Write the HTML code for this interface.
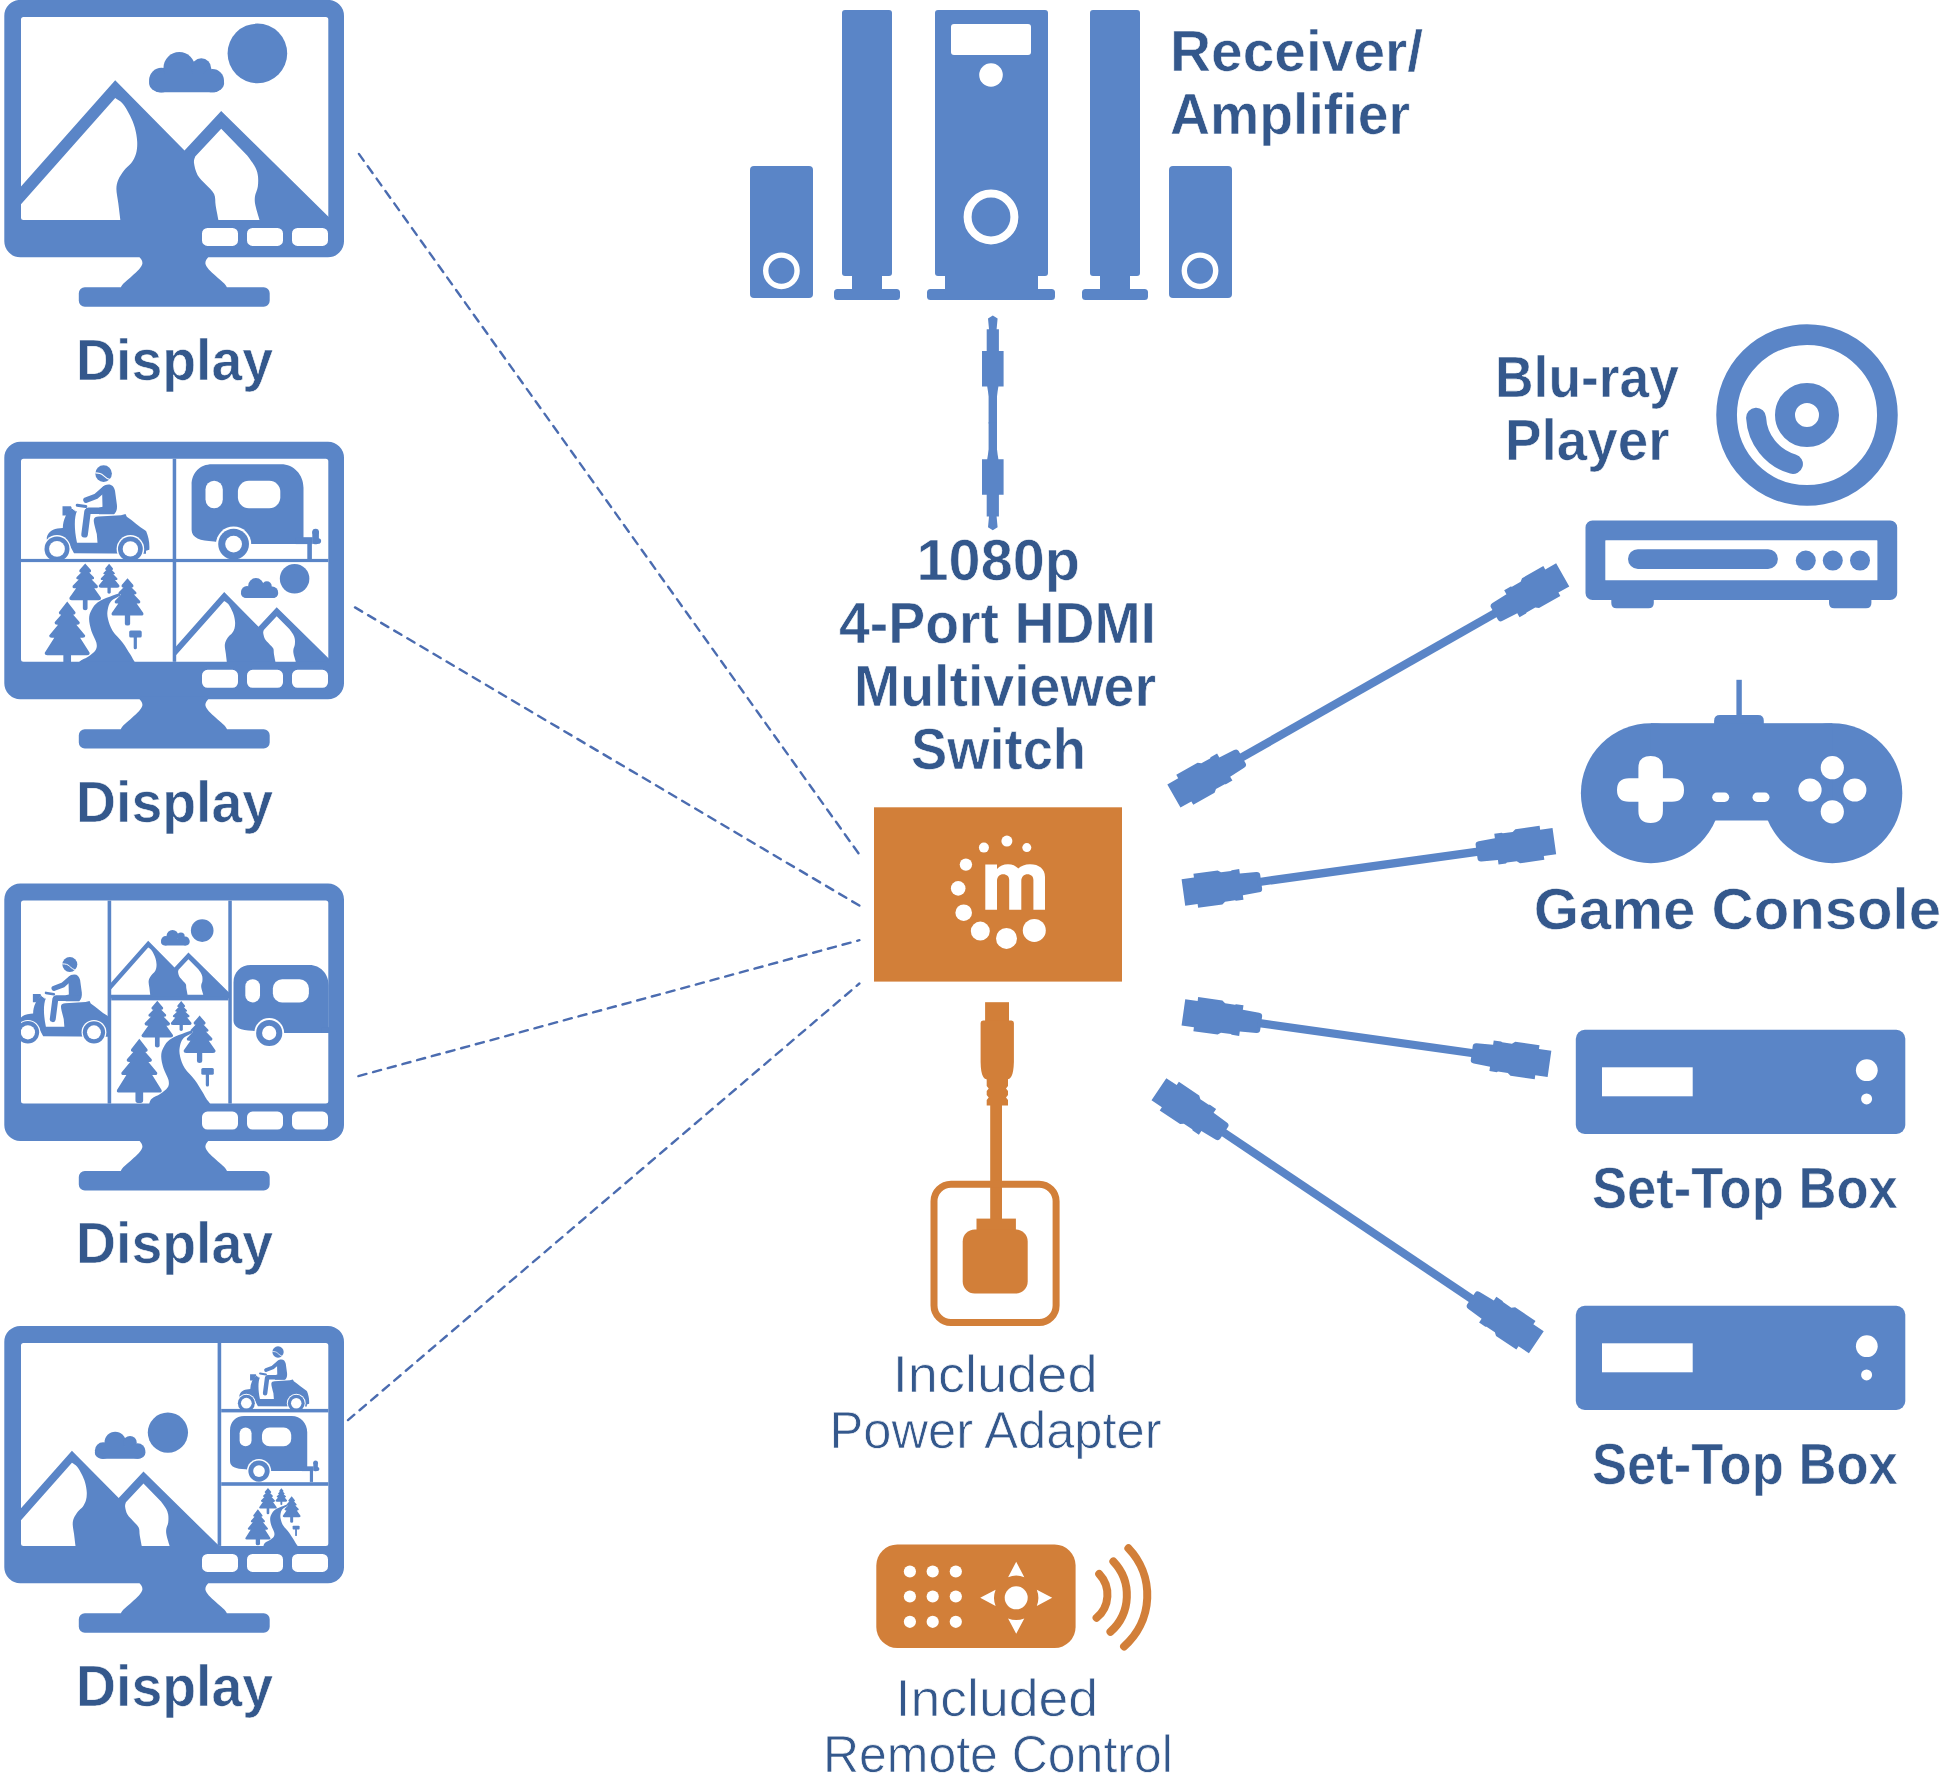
<!DOCTYPE html>
<html><head><meta charset="utf-8"><title>HDMI Multiviewer Switch</title>
<style>html,body{margin:0;padding:0;background:#fff;width:1944px;height:1776px;overflow:hidden}svg{display:block}</style>
</head><body>
<svg width="1944" height="1776" viewBox="0 0 1944 1776">
<defs>
<g id="pMtn">
<circle cx="257.4" cy="53.5" r="29.8" fill="#5a85c7"/>
<g fill="#5a85c7"><circle cx="161.4" cy="80.2" r="12.3"/><circle cx="179.3" cy="67.9" r="15.8"/><circle cx="201.3" cy="68.3" r="9.9"/><circle cx="212.4" cy="80.8" r="11.6"/><rect x="149.1" y="74" width="75" height="18.4" rx="11"/></g>
<path fill="#5a85c7" d="M5,204.7 L115.2,80.4 L184.5,150.5 L221.2,111.2 L345,233 L5,233 Z"/>
<path fill="#fff" d="M5,222.5 L115.2,98.2 C116.5,99.2 120.5,101.1 123.0,104.1 C125.5,107.0 128.1,112.0 130.1,115.9 C132.1,119.8 133.6,123.4 134.8,127.7 C136.0,132.0 137.0,137.6 137.2,141.9 C137.4,146.2 137.0,150.2 136.0,153.8 C135.0,157.4 133.3,160.4 131.3,163.2 C129.3,165.9 126.4,167.5 124.2,170.3 C122.0,173.1 119.6,176.7 118.3,179.8 C117.0,183.0 116.4,185.3 116.4,189.2 C116.4,193.1 117.6,197.9 118.3,203.4 C119.0,208.9 120.2,218.9 120.6,222.0 L5,222 Z"/>
<path fill="#fff" d="M221.2,128.9 L195.2,156.7 C195.0,157.8 193.6,160.1 194.0,163.2 C194.4,166.2 195.5,171.4 197.5,175.0 C199.5,178.6 203.0,181.3 205.8,184.5 C208.6,187.7 212.4,190.4 214.1,194.0 C215.8,197.6 214.9,201.1 215.7,205.8 C216.5,210.5 218.3,219.3 218.8,222.0 L260.2,222 C259.4,219.3 256.4,210.1 255.5,205.8 C254.6,201.5 254.6,199.5 255.0,196.3 C255.4,193.2 257.3,190.5 257.8,186.9 C258.3,183.3 258.4,178.6 257.8,175.0 C257.2,171.4 256.1,168.8 254.3,165.6 C252.5,162.3 248.4,157.2 247.2,155.5 Z"/>
</g>
<g id="pTrees" fill="#5a85c7">
<path d="M85.20,121.70 L90.94,128.29 Q91.74,130.89 88.60,130.89 L89.43,130.89 L93.90,135.51 Q94.70,137.68 91.95,137.68 L91.62,137.68 L97.72,143.96 Q98.52,146.56 95.38,146.56 L94.28,146.56 L100.85,155.80 Q101.65,158.40 98.51,158.40 L87.55,158.40 L87.55,166.75 Q87.55,168.40 85.20,168.40 Q82.85,168.40 82.85,166.75 L82.85,158.40 L71.89,158.40 Q68.75,158.40 69.55,155.80 L76.12,146.56 L75.02,146.56 Q71.88,146.56 72.68,143.96 L78.78,137.68 L78.45,137.68 Q75.70,137.68 76.50,135.51 L80.97,130.89 L81.80,130.89 Q78.66,130.89 79.46,128.29 L85.20,121.70 Z"/>
<path d="M109.10,122.00 L112.84,126.39 Q113.64,128.17 111.24,128.17 L111.85,128.17 L114.77,131.16 Q115.57,132.57 113.50,132.57 L113.28,132.57 L117.26,136.48 Q118.06,138.32 115.60,138.32 L115.02,138.32 L119.30,143.54 Q120.10,146.00 117.09,146.00 L110.75,146.00 L110.75,150.75 Q110.75,151.90 109.10,151.90 Q107.45,151.90 107.45,150.75 L107.45,146.00 L101.11,146.00 Q98.10,146.00 98.90,143.54 L103.18,138.32 L102.60,138.32 Q100.14,138.32 100.94,136.48 L104.92,132.57 L104.70,132.57 Q102.63,132.57 103.43,131.16 L106.35,128.17 L106.96,128.17 Q104.56,128.17 105.36,126.39 L109.10,122.00 Z"/>
<path d="M127.50,136.50 L133.30,143.23 Q134.10,145.83 130.96,145.83 L131.77,145.83 L136.28,150.53 Q137.08,152.73 134.30,152.73 L133.98,152.73 L140.14,159.16 Q140.94,161.76 137.80,161.76 L136.66,161.76 L143.30,171.20 Q144.10,173.80 140.96,173.80 L130.15,173.80 L130.15,181.95 Q130.15,183.80 127.50,183.80 Q124.85,183.80 124.85,181.95 L124.85,173.80 L114.04,173.80 Q110.90,173.80 111.70,171.20 L118.34,161.76 L117.20,161.76 Q114.06,161.76 114.86,159.16 L121.02,152.73 L120.70,152.73 Q117.92,152.73 118.72,150.53 L123.23,145.83 L124.04,145.83 Q120.90,145.83 121.70,143.23 L127.50,136.50 Z"/>
<path d="M67.20,159.60 L75.38,170.26 Q76.18,172.86 73.04,172.86 L73.22,172.86 L79.60,180.26 Q80.40,182.86 77.26,182.86 L76.34,182.86 L85.04,193.35 Q85.84,195.95 82.70,195.95 L80.13,195.95 L89.50,210.80 Q90.30,213.40 87.16,213.40 L71.05,213.40 L71.05,221.31 Q71.05,224.00 67.20,224.00 Q63.35,224.00 63.35,221.31 L63.35,213.40 L47.24,213.40 Q44.10,213.40 44.90,210.80 L54.27,195.95 L51.70,195.95 Q48.56,195.95 49.36,193.35 L58.06,182.86 L57.14,182.86 Q54.00,182.86 54.80,180.26 L61.18,172.86 L61.36,172.86 Q58.22,172.86 59.02,170.26 L67.20,159.60 Z"/>
<rect x="129.2" y="188.8" width="12.5" height="6.8" rx="1.5"/><rect x="133.7" y="194" width="3.2" height="13.4" rx="1.5"/>
<path d="M119.5,151.2 C116.1,152.6 103.8,156.7 99.1,159.6 C94.4,162.5 93.1,165.4 91.4,168.4 C89.7,171.4 89.1,173.9 89.1,177.3 C89.1,180.8 90.2,185.2 91.4,189.1 C92.6,193.0 95.7,197.7 96.4,200.9 C97.1,204.1 96.9,206.2 95.5,208.5 C94.1,210.8 90.9,212.8 88.0,215.0 C85.1,217.2 80.0,217.8 78.0,222.0 C76.0,226.2 76.3,237.0 76.0,240.0 L150,240 C147.7,237.0 139.3,226.5 136.0,222.0 C132.7,217.5 132.6,216.3 130.4,212.8 C128.2,209.3 125.7,204.9 122.7,200.9 C119.8,196.9 115.2,193.0 112.7,189.1 C110.2,185.2 108.8,180.8 108.0,177.3 C107.2,173.9 107.1,171.4 107.6,168.4 C108.1,165.4 108.8,162.1 110.9,159.6 C113.1,157.1 118.9,154.7 120.5,153.7 Z"/>
</g>
<g id="pScooter">
<g fill="#5a85c7">
<path d="M46.8,95.5 C48.5,89.5 53,87 60,86.5 L62.8,86.1 C63,78 66.5,70.5 72,66.2 L76.8,69.8 C74.5,75 73.8,86 77,100.9 L97.5,100.9 L96.8,92.3 C95,85 93.5,80.5 93.8,78 C94,75.8 96,75 98.5,74.8 L121,73.5 L125.5,72.3 L126.8,75 C133,79 139,85 145,88.5 L146.2,89.5 C148.5,95 149.8,101.5 149.3,108 L146,109 L146,112 L74,111.5 L70,104 L60,100 L46.8,98 Z"/>
<path d="M62.5,64.5 L70.8,64.5 L71.8,66 L66.5,73.8 L62.5,73.8 Z"/>
<path d="M102,46 C103.5,43.5 106,42.8 108.5,42.8 C112,42.8 114,45 115,49 L116.9,63 C117.3,67 116.5,70.5 114,72.5 L99,72.5 L99,66 L102.5,65 Z"/>
<circle cx="103.6" cy="31.8" r="8.3"/>
</g>
<g stroke="#5a85c7" stroke-linecap="round" fill="none">
<path d="M104,47.5 L96,54.5 L86,58.3" stroke-width="5.6"/>
<path d="M88.5,69 L112,69" stroke-width="6.4"/>
<path d="M87.5,70 L84.6,92.5" stroke-width="6.6"/>
<path d="M77.2,63.4 L85.8,64.8" stroke-width="3"/>
</g>
<path d="M95.2,31.1 C99,31.1 101.2,31.6 103.2,33.6 C105.2,35.6 107.6,37.6 110.9,38.1" stroke="#fff" stroke-width="1.1" fill="none"/>
<path d="M71.8,66.2 L76,69.4" stroke="#fff" stroke-width="1" fill="none"/>
<g>
<circle cx="57" cy="107.1" r="13.8" fill="#fff"/><circle cx="57" cy="107.1" r="12.5" fill="#5a85c7"/><circle cx="57" cy="107.1" r="7.9" fill="#fff"/>
<circle cx="130.4" cy="107.1" r="13.8" fill="#fff"/><circle cx="130.4" cy="107.1" r="12.4" fill="#5a85c7"/><circle cx="130.4" cy="107.1" r="7.7" fill="#fff"/>
</g>
</g>
<g id="pCaravan">
<path fill="#5a85c7" d="M212,22.4 L281,22.4 C294,22.4 303.5,33 303.5,46 L303.5,102.3 L230,102.3 L214,99.6 C200,99.3 191.6,96 191.6,88 L191.6,43 C191.6,31 200,22.4 212,22.4 Z"/>
<rect x="205.5" y="39" width="17.3" height="27.4" rx="8.6" fill="#fff"/>
<rect x="237.9" y="39" width="42.4" height="27.4" rx="11" fill="#fff"/>
<circle cx="233.6" cy="102.3" r="17.6" fill="#fff"/>
<circle cx="233.6" cy="102.3" r="15.4" fill="#5a85c7"/>
<circle cx="233.6" cy="102.3" r="8.4" fill="#fff"/>
<g fill="#5a85c7"><rect x="295.7" y="95.4" width="17" height="6.9"/><rect x="307.3" y="101" width="4.6" height="17"/><rect x="312.3" y="88.5" width="6.6" height="14" rx="2.5"/><circle cx="315.6" cy="90.3" r="3.4"/><circle cx="318.3" cy="99.2" r="2.8"/></g>
</g>
<g id="monFrame" fill="#5a85c7"><path fill-rule="evenodd" d="M20.3,0 H328.0 A16,16 0 0 1 344.0,16 V241.39999999999998 A16,16 0 0 1 328.0,257.4 H20.3 A16,16 0 0 1 4.3,241.39999999999998 V16 A16,16 0 0 1 20.3,0 Z M23.5,17 H325.8 A2.5,2.5 0 0 1 328.3,19.5 V217.5 A2.5,2.5 0 0 1 325.8,220 H23.5 A2.5,2.5 0 0 1 21,217.5 V19.5 A2.5,2.5 0 0 1 23.5,17 Z M207.5,228 H232.5 A5.5,5.5 0 0 1 238,233.5 V240.5 A5.5,5.5 0 0 1 232.5,246 H207.5 A5.5,5.5 0 0 1 202,240.5 V233.5 A5.5,5.5 0 0 1 207.5,228 Z M252.5,228 H277.5 A5.5,5.5 0 0 1 283,233.5 V240.5 A5.5,5.5 0 0 1 277.5,246 H252.5 A5.5,5.5 0 0 1 247,240.5 V233.5 A5.5,5.5 0 0 1 252.5,228 Z M297.5,228 H322.5 A5.5,5.5 0 0 1 328,233.5 V240.5 A5.5,5.5 0 0 1 322.5,246 H297.5 A5.5,5.5 0 0 1 292,240.5 V233.5 A5.5,5.5 0 0 1 297.5,228 Z "/><path d="M139.6,255 L208.2,255 L208.2,257.4 C206.8,259 205.2,261 205.4,263.5 C205.8,267 210.8,271.5 215.8,276 C220.8,280.5 225.8,284 227.2,287.8 L120.6,287.8 C122,284 127,280.5 132,276 C137,271.5 142,267 142.4,263.5 C142.6,261 141,259 139.6,257.4 Z M84.8,287.4 H263.7 A6,6 0 0 1 269.7,293.4 V300.79999999999995 A6,6 0 0 1 263.7,306.79999999999995 H84.8 A6,6 0 0 1 78.8,300.79999999999995 V293.4 A6,6 0 0 1 84.8,287.4 Z "/></g>
<clipPath id="cScreen"><rect x="19.5" y="15.5" width="310.3" height="206.0"/></clipPath>
<clipPath id="c2TL"><rect x="19.5" y="15.5" width="154.7" height="103.0"/></clipPath>
<clipPath id="c2TR"><rect x="174.7" y="15.5" width="155.1" height="103.0"/></clipPath>
<clipPath id="c2BL"><rect x="19.5" y="118.7" width="154.7" height="102.8"/></clipPath>
<clipPath id="c2BR"><rect x="174.7" y="118.7" width="155.1" height="102.8"/></clipPath>
<clipPath id="c3L"><rect x="19.5" y="15.5" width="89.6" height="206.0"/></clipPath>
<clipPath id="c3MT"><rect x="109.7" y="15.5" width="120.1" height="99.3"/></clipPath>
<clipPath id="c3MB"><rect x="109.7" y="115.3" width="120.1" height="106.2"/></clipPath>
<clipPath id="c3R"><rect x="230.3" y="15.5" width="99.5" height="206.0"/></clipPath>
<clipPath id="c4L"><rect x="19.5" y="15.5" width="199.6" height="206.0"/></clipPath>
<clipPath id="c4R1"><rect x="219.7" y="15.5" width="110.1" height="69.0"/></clipPath>
<clipPath id="c4R2"><rect x="219.7" y="85.0" width="110.1" height="72.8"/></clipPath>
<clipPath id="c4R3"><rect x="219.7" y="158.4" width="110.1" height="63.1"/></clipPath>
</defs>
<g stroke="#4b6cb0" stroke-width="2.4" stroke-linecap="round" stroke-dasharray="8.3 6.9" fill="none">
<line x1="358.9" y1="153.9" x2="859.4" y2="854.6"/>
<line x1="355" y1="607.4" x2="859.4" y2="905.6"/>
<line x1="358.4" y1="1076.1" x2="859.4" y2="940.2"/>
<line x1="348" y1="1420.1" x2="859.4" y2="983.5"/>
</g>
<g transform="translate(0,-0.1)">
<g clip-path="url(#cScreen)"><use href="#pMtn"/></g>
<use href="#monFrame"/>
</g><g transform="translate(0,441.8)">
<g clip-path="url(#c2TL)"><use href="#pScooter"/></g>
<g clip-path="url(#c2TR)"><use href="#pCaravan"/></g>
<g clip-path="url(#c2BL)"><use href="#pTrees"/></g>
<g clip-path="url(#c2BR)"><use href="#pMtn" transform="translate(167.19,110.52) scale(0.495)"/></g>
<g fill="#5a85c7"><rect x="172.7" y="17" width="3.5" height="203"/><rect x="21" y="117.1" width="307.3" height="3.2"/></g>
<use href="#monFrame"/>
</g><g transform="translate(0,883.6)">
<g clip-path="url(#c3L)"><use href="#pScooter" transform="translate(-23.40,52.31) scale(0.9)"/></g>
<g clip-path="url(#c3MT)"><use href="#pMtn" transform="translate(104.39,26.67) scale(0.38)"/></g>
<g clip-path="url(#c3MB)"><use href="#pTrees" transform="translate(72.10,-4.50) scale(1.0)"/></g>
<g clip-path="url(#c3R)"><use href="#pCaravan" transform="translate(70.64,62.45) scale(0.85)"/></g>
<g fill="#5a85c7"><rect x="107.6" y="17" width="3.6" height="203"/><rect x="228.3" y="17" width="3.5" height="203"/><rect x="111.2" y="113.3" width="117.1" height="3.5"/></g>
<use href="#monFrame"/>
</g><g transform="translate(0,1325.9)">
<g clip-path="url(#c4L)"><use href="#pMtn" transform="translate(-5.84,70.59) scale(0.675)"/></g>
<g clip-path="url(#c4R1)"><use href="#pScooter" transform="translate(207.58,4.47) scale(0.68)"/></g>
<g clip-path="url(#c4R2)"><use href="#pCaravan" transform="translate(97.82,74.61) scale(0.69)"/></g>
<g clip-path="url(#c4R3)"><use href="#pTrees" transform="translate(220.26,94.02) scale(0.56)"/></g>
<g fill="#5a85c7"><rect x="217.6" y="17" width="3.6" height="203"/><rect x="221.2" y="83" width="107.1" height="3.5"/><rect x="221.2" y="156.3" width="107.1" height="3.6"/></g>
<use href="#monFrame"/>
</g>
<g fill="#5a85c7">
<path d="M754,166 H809 A4,4 0 0 1 813,170 V294 A4,4 0 0 1 809,298 H754 A4,4 0 0 1 750,294 V170 A4,4 0 0 1 754,166 Z "/><path d="M1173,166 H1228 A4,4 0 0 1 1232,170 V294 A4,4 0 0 1 1228,298 H1173 A4,4 0 0 1 1169,294 V170 A4,4 0 0 1 1173,166 Z "/>
<path d="M845,10 H889 A3,3 0 0 1 892,13 V273 A3,3 0 0 1 889,276 H845 A3,3 0 0 1 842,273 V13 A3,3 0 0 1 845,10 Z "/><rect x="852" y="274" width="30" height="16"/><path d="M837.5,289 H896.5 A3.5,3.5 0 0 1 900,292.5 V296.5 A3.5,3.5 0 0 1 896.5,300 H837.5 A3.5,3.5 0 0 1 834,296.5 V292.5 A3.5,3.5 0 0 1 837.5,289 Z "/>
<path d="M1093,10 H1137 A3,3 0 0 1 1140,13 V273 A3,3 0 0 1 1137,276 H1093 A3,3 0 0 1 1090,273 V13 A3,3 0 0 1 1093,10 Z "/><rect x="1100" y="274" width="30" height="16"/><path d="M1085.5,289 H1144.5 A3.5,3.5 0 0 1 1148,292.5 V296.5 A3.5,3.5 0 0 1 1144.5,300 H1085.5 A3.5,3.5 0 0 1 1082,296.5 V292.5 A3.5,3.5 0 0 1 1085.5,289 Z "/>
<path d="M938,10 H1045 A3,3 0 0 1 1048,13 V273 A3,3 0 0 1 1045,276 H938 A3,3 0 0 1 935,273 V13 A3,3 0 0 1 938,10 Z "/><rect x="945" y="274" width="93" height="16"/><path d="M930.5,289 H1051.5 A3.5,3.5 0 0 1 1055,292.5 V296.5 A3.5,3.5 0 0 1 1051.5,300 H930.5 A3.5,3.5 0 0 1 927,296.5 V292.5 A3.5,3.5 0 0 1 930.5,289 Z "/>
</g>
<g fill="#fff"><path d="M954,24 H1028 A3,3 0 0 1 1031,27 V52 A3,3 0 0 1 1028,55 H954 A3,3 0 0 1 951,52 V27 A3,3 0 0 1 954,24 Z "/><circle cx="991" cy="75" r="11.8"/></g>
<g fill="none" stroke="#fff"><circle cx="991" cy="217" r="23.4" stroke-width="8"/><circle cx="781.4" cy="270.8" r="15.7" stroke-width="5.4"/><circle cx="1200" cy="270.8" r="15.7" stroke-width="5.4"/></g>

<g fill="#5a85c7"><path d="M992.8,315.5 L997.6,318.5 L996.6,329.3 L998.9,329.3 L998.9,351.0 L1003.6,351.0 L1003.6,386.5 L998.4,386.5 L997.6,391.5 L997.0,396.5 L997.0,423.5 L988.6,423.5 L988.6,396.5 L988.0,391.5 L987.2,386.5 L982.0,386.5 L982.0,351.0 L986.7,351.0 L986.7,329.3 L989.0,329.3 L988.0,318.5 L992.8,315.5 Z"/><path d="M992.8,530.3 L997.6,527.3 L996.6,516.5 L998.9,516.5 L998.9,494.8 L1003.6,494.8 L1003.6,459.3 L998.4,459.3 L997.6,454.3 L997.0,449.3 L997.0,422.3 L988.6,422.3 L988.6,449.3 L988.0,454.3 L987.2,459.3 L982.0,459.3 L982.0,494.8 L986.7,494.8 L986.7,516.5 L989.0,516.5 L988.0,527.3 L992.8,530.3 Z"/></g>
<g transform="translate(1173.9,796.0) rotate(-29.63)" fill="#5a85c7">
<path d="M0,-13.3 L12.5,-13.3 L12.5,-17.2 L37,-17.2 L40,-14.8 L50,-14.8 L51,-15.5 L58.5,-15.5 L58.5,-11 L75,-10.2 Q78.5,-10 78.5,-7 L78.5,7 Q78.5,10 75,10.2 L58.5,11 L58.5,15.5 L51,15.5 L50,14.8 L40,14.8 L37,17.2 L12.5,17.2 L12.5,13.3 L0,13.3 Z"/><rect x="75" y="-4.1" width="297.3" height="8.2"/><path transform="translate(447.3,0) scale(-1,1)" d="M0,-13.3 L12.5,-13.3 L12.5,-17.2 L37,-17.2 L40,-14.8 L50,-14.8 L51,-15.5 L58.5,-15.5 L58.5,-11 L75,-10.2 Q78.5,-10 78.5,-7 L78.5,7 Q78.5,10 75,10.2 L58.5,11 L58.5,15.5 L51,15.5 L50,14.8 L40,14.8 L37,17.2 L12.5,17.2 L12.5,13.3 L0,13.3 Z"/></g><g transform="translate(1183.4,892.5) rotate(-7.89)" fill="#5a85c7">
<path d="M0,-13.3 L12.5,-13.3 L12.5,-17.2 L37,-17.2 L40,-14.8 L50,-14.8 L51,-15.5 L58.5,-15.5 L58.5,-11 L75,-10.2 Q78.5,-10 78.5,-7 L78.5,7 Q78.5,10 75,10.2 L58.5,11 L58.5,15.5 L51,15.5 L50,14.8 L40,14.8 L37,17.2 L12.5,17.2 L12.5,13.3 L0,13.3 Z"/><rect x="75" y="-4.1" width="224.5" height="8.2"/><path transform="translate(374.5,0) scale(-1,1)" d="M0,-13.3 L12.5,-13.3 L12.5,-17.2 L37,-17.2 L40,-14.8 L50,-14.8 L51,-15.5 L58.5,-15.5 L58.5,-11 L75,-10.2 Q78.5,-10 78.5,-7 L78.5,7 Q78.5,10 75,10.2 L58.5,11 L58.5,15.5 L51,15.5 L50,14.8 L40,14.8 L37,17.2 L12.5,17.2 L12.5,13.3 L0,13.3 Z"/></g><g transform="translate(1183.4,1012.4) rotate(8.01)" fill="#5a85c7">
<path d="M0,-13.3 L12.5,-13.3 L12.5,-17.2 L37,-17.2 L40,-14.8 L50,-14.8 L51,-15.5 L58.5,-15.5 L58.5,-11 L75,-10.2 Q78.5,-10 78.5,-7 L78.5,7 Q78.5,10 75,10.2 L58.5,11 L58.5,15.5 L51,15.5 L50,14.8 L40,14.8 L37,17.2 L12.5,17.2 L12.5,13.3 L0,13.3 Z"/><rect x="75" y="-4.1" width="219.7" height="8.2"/><path transform="translate(369.7,0) scale(-1,1)" d="M0,-13.3 L12.5,-13.3 L12.5,-17.2 L37,-17.2 L40,-14.8 L50,-14.8 L51,-15.5 L58.5,-15.5 L58.5,-11 L75,-10.2 Q78.5,-10 78.5,-7 L78.5,7 Q78.5,10 75,10.2 L58.5,11 L58.5,15.5 L51,15.5 L50,14.8 L40,14.8 L37,17.2 L12.5,17.2 L12.5,13.3 L0,13.3 Z"/></g><g transform="translate(1158.9,1089.2) rotate(33.84)" fill="#5a85c7">
<path d="M0,-13.3 L12.5,-13.3 L12.5,-17.2 L37,-17.2 L40,-14.8 L50,-14.8 L51,-15.5 L58.5,-15.5 L58.5,-11 L75,-10.2 Q78.5,-10 78.5,-7 L78.5,7 Q78.5,10 75,10.2 L58.5,11 L58.5,15.5 L51,15.5 L50,14.8 L40,14.8 L37,17.2 L12.5,17.2 L12.5,13.3 L0,13.3 Z"/><rect x="75" y="-4.1" width="304.4" height="8.2"/><path transform="translate(454.4,0) scale(-1,1)" d="M0,-13.3 L12.5,-13.3 L12.5,-17.2 L37,-17.2 L40,-14.8 L50,-14.8 L51,-15.5 L58.5,-15.5 L58.5,-11 L75,-10.2 Q78.5,-10 78.5,-7 L78.5,7 Q78.5,10 75,10.2 L58.5,11 L58.5,15.5 L51,15.5 L50,14.8 L40,14.8 L37,17.2 L12.5,17.2 L12.5,13.3 L0,13.3 Z"/></g>
<rect x="874" y="807.3" width="248" height="174.3" fill="#d27f39"/>
<g fill="#fff"><circle cx="1006.9" cy="841.1" r="5.5"/><circle cx="983.9" cy="847.6" r="5"/><circle cx="1026.8" cy="847.6" r="4.5"/><circle cx="965.9" cy="864.6" r="6.2"/><circle cx="958.2" cy="888.4" r="7.3"/><circle cx="963.7" cy="912.7" r="8.3"/><circle cx="980.3" cy="931.1" r="9.5"/><circle cx="1006.5" cy="938.4" r="10.5"/><circle cx="1034.3" cy="930.4" r="11.5"/><path d="M985.3,864.5 L997,864.5 L997,869 C999.6,866 1003.5,864.3 1008,864.3 C1012.5,864.3 1016,866 1018.2,868.6 C1021,866 1025,864.3 1030,864.3 C1039,864.3 1045,869 1045,877 L1045,909.7 L1033.4,909.7 L1033.4,880 C1033.4,876.5 1031,874.3 1027.5,874.3 C1024,874.3 1021.3,877 1021.3,881 L1021.3,909.7 L1009.2,909.7 L1009.2,880 C1009.2,876.5 1006.8,874.3 1003.2,874.3 C999.6,874.3 997,877 997,881 L997,909.7 L985.3,909.7 Z"/></g>
<g fill="#d27f39">
<rect x="985.1" y="1002.2" width="23.9" height="19"/>
<path d="M980.6,1023 Q980.6,1020.5 983,1020.5 L1011.5,1020.5 Q1013.9,1020.5 1013.9,1023 L1013.9,1062 Q1013.6,1072 1011.6,1076 Q1010,1079.5 1006,1079.5 L988.2,1079.5 Q984.2,1079.5 982.8,1076 Q980.8,1072 980.6,1062 Z"/>
<path d="M986.7,1079 H1008 V1086 L1006,1088.5 L1008,1091 V1095 L1006,1097.5 L1008,1100 V1105.5 H986.7 V1100 L988.7,1097.5 L986.7,1095 V1091 L988.7,1088.5 L986.7,1086 Z"/>
<rect x="990.2" y="1104" width="11.8" height="116"/>
<rect x="976.5" y="1218.6" width="39.4" height="11.5"/>
<rect x="962.7" y="1229.4" width="65" height="64" rx="12"/>
</g>
<rect x="934" y="1184.2" width="122.1" height="138.3" rx="17" fill="none" stroke="#d27f39" stroke-width="7"/>
<rect x="876.3" y="1544.5" width="199.3" height="103.5" rx="21" fill="#d27f39"/>
<g fill="#fff"><circle cx="909.9" cy="1571.5" r="6.1"/><circle cx="932.7" cy="1571.5" r="6.1"/><circle cx="955.8" cy="1571.5" r="6.1"/><circle cx="909.9" cy="1596.5" r="6.1"/><circle cx="932.7" cy="1596.5" r="6.1"/><circle cx="955.8" cy="1596.5" r="6.1"/><circle cx="909.9" cy="1621.8" r="6.1"/><circle cx="932.7" cy="1621.8" r="6.1"/><circle cx="955.8" cy="1621.8" r="6.1"/><circle cx="1016.2" cy="1597.8" r="11.5"/>
<path d="M1016.2,1561.8 L1024.3,1577.2 A22,22 0 0 0 1008.1,1577.2 Z"/><path d="M1016.2,1633.8 L1024.3,1618.4 A22,22 0 0 1 1008.1,1618.4 Z"/>
<path d="M980.2,1597.8 L995.6,1589.7 A22,22 0 0 0 995.6,1605.9 Z"/><path d="M1052.2,1597.8 L1036.8,1589.7 A22,22 0 0 1 1036.8,1605.9 Z"/></g>
<g fill="none" stroke="#d27f39" stroke-width="8" stroke-linecap="round">
<path d="M1099.2,1573.9 A30.2,30.2 0 0 1 1096.6,1617.8"/><path d="M1113.4,1561.5 A49,49 0 0 1 1110.5,1631.8"/><path d="M1128.4,1548.3 A67.9,67.9 0 0 1 1124.1,1646.4"/></g>
<g fill="#5a85c7">
<circle cx="1807" cy="415" r="80.4" fill="none" stroke="#5a85c7" stroke-width="20.7"/>
<circle cx="1807" cy="415" r="22" fill="none" stroke="#5a85c7" stroke-width="20"/>
<path d="M1756.1,417.7 A51,51 0 0 0 1792.9,464.0" fill="none" stroke="#5a85c7" stroke-width="20" stroke-linecap="round"/>
<path fill-rule="evenodd" d="M1592.5,520.5 H1890.2 A7,7 0 0 1 1897.2,527.5 V593.0 A7,7 0 0 1 1890.2,600.0 H1592.5 A7,7 0 0 1 1585.5,593.0 V527.5 A7,7 0 0 1 1592.5,520.5 Z M1605.8,540.3 H1876.9 A0.5,0.5 0 0 1 1877.4,540.8 V579.6999999999999 A0.5,0.5 0 0 1 1876.9,580.1999999999999 H1605.8 A0.5,0.5 0 0 1 1605.3,579.6999999999999 V540.8 A0.5,0.5 0 0 1 1605.8,540.3 Z "/>
<rect x="1628" y="549.2" width="149.9" height="19.8" rx="9.9"/>
<circle cx="1805.8" cy="560.6" r="10"/><circle cx="1832.8" cy="560.6" r="10"/><circle cx="1860" cy="560.6" r="10"/>
<path d="M1611.3,599 H1653.8 V603 Q1653.8,608.3 1648.5,608.3 H1616.6 Q1611.3,608.3 1611.3,603 Z"/>
<path d="M1829,599 H1871.4 V603 Q1871.4,608.3 1866.1,608.3 H1834.3 Q1829,608.3 1829,603 Z"/>
</g><g fill="#5a85c7">
<rect x="1736.4" y="679.8" width="5.4" height="40"/>
<path d="M1714.1,727 V721 Q1714.1,715.1 1720,715.1 H1758 Q1763.8,715.1 1763.8,721 V727 Z"/>
<circle cx="1650.9" cy="793.2" r="70"/><circle cx="1832.3" cy="793.2" r="70"/>
<rect x="1650.9" y="723.2" width="181.4" height="97.3"/>
</g>
<g fill="#fff">
<path d="M1638.4,768 Q1638.4,756 1650.6,756 Q1662.9,756 1662.9,768 V778.2 H1672 Q1684,778.2 1684,790 Q1684,801.8 1672,801.8 H1662.9 V811 Q1662.9,823 1650.6,823 Q1638.4,823 1638.4,811 V801.8 H1629 Q1617,801.8 1617,790 Q1617,778.2 1629,778.2 H1638.4 Z"/>
<rect x="1712.2" y="792.5" width="17" height="9.4" rx="4.7"/><rect x="1752.5" y="792.5" width="17" height="9.4" rx="4.7"/>
<circle cx="1832.3" cy="767.7" r="11.6"/><circle cx="1810" cy="790" r="11.6"/><circle cx="1854.8" cy="790" r="11.6"/><circle cx="1832.3" cy="811.8" r="11.6"/>
</g><g transform="translate(0,0)"><path fill="#5a85c7" d="M1584.8,1029.8 H1896.3 A9,9 0 0 1 1905.3,1038.8 V1124.8999999999999 A9,9 0 0 1 1896.3,1133.8999999999999 H1584.8 A9,9 0 0 1 1575.8,1124.8999999999999 V1038.8 A9,9 0 0 1 1584.8,1029.8 Z "/>
<rect x="1602" y="1067.3" width="90.7" height="29" fill="#fff"/><circle cx="1866.8" cy="1070.2" r="10.9" fill="#fff"/><circle cx="1866.6" cy="1098.9" r="5.5" fill="#fff"/></g><g transform="translate(0,276)"><path fill="#5a85c7" d="M1584.8,1029.8 H1896.3 A9,9 0 0 1 1905.3,1038.8 V1124.8999999999999 A9,9 0 0 1 1896.3,1133.8999999999999 H1584.8 A9,9 0 0 1 1575.8,1124.8999999999999 V1038.8 A9,9 0 0 1 1584.8,1029.8 Z "/>
<rect x="1602" y="1067.3" width="90.7" height="29" fill="#fff"/><circle cx="1866.8" cy="1070.2" r="10.9" fill="#fff"/><circle cx="1866.6" cy="1098.9" r="5.5" fill="#fff"/></g>
<g font-family="&quot;Liberation Sans&quot;, sans-serif" fill="#34588c"><text x="76.00" y="379.8" font-size="57.6" font-weight="bold" textLength="197.00" lengthAdjust="spacingAndGlyphs" stroke="#fff" stroke-width="0.6">Display</text>
<text x="76.00" y="821.6" font-size="57.6" font-weight="bold" textLength="197.00" lengthAdjust="spacingAndGlyphs" stroke="#fff" stroke-width="0.6">Display</text>
<text x="76.00" y="1263.4" font-size="57.6" font-weight="bold" textLength="197.00" lengthAdjust="spacingAndGlyphs" stroke="#fff" stroke-width="0.6">Display</text>
<text x="76.00" y="1705.7" font-size="57.6" font-weight="bold" textLength="197.00" lengthAdjust="spacingAndGlyphs" stroke="#fff" stroke-width="0.6">Display</text>
<text x="1170.00" y="70.9" font-size="57.6" font-weight="bold" textLength="253.00" lengthAdjust="spacingAndGlyphs" stroke="#fff" stroke-width="0.6">Receiver/</text>
<text x="1170.00" y="133.9" font-size="57.6" font-weight="bold" textLength="240.00" lengthAdjust="spacingAndGlyphs" stroke="#fff" stroke-width="0.6">Amplifier</text>
<text x="916.60" y="580" font-size="57.6" font-weight="bold" textLength="163.30" lengthAdjust="spacingAndGlyphs" stroke="#fff" stroke-width="0.6">1080p</text>
<text x="839.00" y="642.7" font-size="57.6" font-weight="bold" textLength="317.00" lengthAdjust="spacingAndGlyphs" stroke="#fff" stroke-width="0.6">4-Port HDMI</text>
<text x="854.00" y="706" font-size="57.6" font-weight="bold" textLength="302.00" lengthAdjust="spacingAndGlyphs" stroke="#fff" stroke-width="0.6">Multiviewer</text>
<text x="911.00" y="768.5" font-size="57.6" font-weight="bold" textLength="175.00" lengthAdjust="spacingAndGlyphs" stroke="#fff" stroke-width="0.6">Switch</text>
<text x="1495.00" y="396.8" font-size="57.6" font-weight="bold" textLength="184.00" lengthAdjust="spacingAndGlyphs" stroke="#fff" stroke-width="0.6">Blu-ray</text>
<text x="1505.00" y="459.8" font-size="57.6" font-weight="bold" textLength="164.50" lengthAdjust="spacingAndGlyphs" stroke="#fff" stroke-width="0.6">Player</text>
<text x="1533.80" y="928.5" font-size="57.6" font-weight="bold" textLength="407.30" lengthAdjust="spacingAndGlyphs" stroke="#fff" stroke-width="0.6">Game Console</text>
<text x="1592.00" y="1207.8" font-size="57.6" font-weight="bold" textLength="305.80" lengthAdjust="spacingAndGlyphs" stroke="#fff" stroke-width="0.6">Set-Top Box</text>
<text x="1592.00" y="1483.8" font-size="57.6" font-weight="bold" textLength="305.80" lengthAdjust="spacingAndGlyphs" stroke="#fff" stroke-width="0.6">Set-Top Box</text>
<text x="892.80" y="1392" font-size="51.5" font-weight="normal" textLength="204.70" lengthAdjust="spacingAndGlyphs" stroke="#fff" stroke-width="0.75">Included</text>
<text x="829.50" y="1448" font-size="51.5" font-weight="normal" textLength="332.10" lengthAdjust="spacingAndGlyphs" stroke="#fff" stroke-width="0.75">Power Adapter</text>
<text x="895.60" y="1716" font-size="51.5" font-weight="normal" textLength="202.50" lengthAdjust="spacingAndGlyphs" stroke="#fff" stroke-width="0.75">Included</text>
<text x="822.90" y="1772" font-size="51.5" font-weight="normal" textLength="349.90" lengthAdjust="spacingAndGlyphs" stroke="#fff" stroke-width="0.75">Remote Control</text></g>
</svg>
</body></html>
